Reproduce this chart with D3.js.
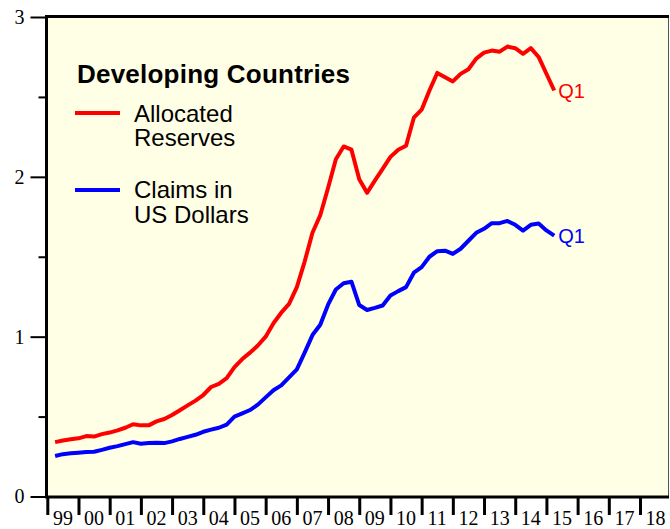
<!DOCTYPE html>
<html><head><meta charset="utf-8">
<script src="https://cdn.jsdelivr.net/npm/d3@7"></script>
<style>body{margin:0;background:#fff}svg{display:block}</style>
</head><body><svg id="c" width="670" height="529"></svg>
<script>
const startYear = 1999;
const yearLabels = ["99","00","01","02","03","04","05","06","07","08","09","10","11","12","13","14","15","16","17","18"];
const yTicks = [0,1,2,3];
const yMinor = [0.5,1.5,2.5];
const allocatedReserves = [0.34,0.35,0.358,0.364,0.378,0.375,0.39,0.40,0.414,0.43,0.452,0.445,0.445,0.47,0.485,0.51,0.54,0.57,0.60,0.635,0.685,0.705,0.74,0.81,0.86,0.90,0.945,1.0,1.084,1.15,1.205,1.31,1.47,1.65,1.76,1.93,2.11,2.19,2.17,1.985,1.90,1.976,2.05,2.125,2.17,2.195,2.37,2.42,2.54,2.65,2.623,2.597,2.644,2.673,2.74,2.777,2.79,2.783,2.815,2.805,2.77,2.805,2.75,2.645,2.54];
const claimsUSD = [0.253,0.265,0.27,0.274,0.278,0.28,0.292,0.305,0.315,0.328,0.34,0.33,0.334,0.337,0.334,0.345,0.36,0.373,0.386,0.405,0.418,0.43,0.45,0.50,0.52,0.541,0.575,0.62,0.665,0.695,0.745,0.795,0.90,1.01,1.075,1.20,1.295,1.334,1.344,1.198,1.167,1.18,1.195,1.257,1.285,1.31,1.40,1.435,1.50,1.535,1.538,1.518,1.55,1.60,1.65,1.675,1.71,1.71,1.724,1.70,1.663,1.70,1.708,1.665,1.632];

const svg = d3.select("#c");
const x = d3.scaleLinear().domain([1999, 2019]).range([47.3, 671.2]);
const y = d3.scaleLinear().domain([0, 3]).range([496.5, 17]);

// plot background
svg.append("rect").attr("x", 47).attr("y", 17).attr("width", 622).attr("height", 480)
  .attr("fill", "#FFFFE6");
// right border
svg.append("line").attr("x1", 668.5).attr("x2", 668.5).attr("y1", 16).attr("y2", 497)
  .attr("stroke", "#555").attr("stroke-width", 1);
// top border
svg.append("line").attr("x1", 45).attr("x2", 669).attr("y1", 16.5).attr("y2", 16.5)
  .attr("stroke", "#000").attr("stroke-width", 3);

// y axis
const yAxis = svg.append("g").attr("transform", "translate(46.5,0)")
  .call(d3.axisLeft(y).tickValues(yTicks).tickSize(16).tickPadding(6).tickFormat(d3.format("d")));
yAxis.select(".domain").attr("stroke-width", 3).attr("d", `M0,${y(3)-1.5}V${y(0)}`);
yAxis.selectAll(".tick line").attr("stroke-width", 2);
yAxis.selectAll(".tick text").attr("font-family", "Liberation Serif").attr("font-size", 20).attr("fill", "#000");
svg.append("g").attr("transform", "translate(46.5,0)")
  .call(d3.axisLeft(y).tickValues(yMinor).tickSize(8).tickFormat(""))
  .call(g => { g.select(".domain").remove(); g.selectAll(".tick line").attr("stroke-width", 2); });

// x axis
const years = yearLabels.map((d, i) => startYear + i);
const xAxis = svg.append("g").attr("transform", "translate(0,497)")
  .call(d3.axisBottom(x).tickValues(years).tickSize(18).tickFormat(""));
xAxis.select(".domain").attr("stroke-width", 3).attr("d", `M45,0H669`);
xAxis.selectAll(".tick line").attr("stroke-width", 3);
svg.append("g").selectAll("text").data(yearLabels).join("text")
  .attr("x", (d, i) => x(startYear + i + 0.5)).attr("y", 525)
  .attr("text-anchor", "middle").attr("font-family", "Liberation Serif").attr("font-size", 20)
  .text(d => d);

// lines
const t = i => startYear + (i + 1) * 0.25;
const line = d3.line().x((d, i) => x(t(i))).y(d => y(d));
svg.append("path").datum(allocatedReserves).attr("d", line).attr("fill", "none")
  .attr("stroke", "#FF0000").attr("stroke-width", 4).attr("stroke-linejoin", "round");
svg.append("path").datum(claimsUSD).attr("d", line).attr("fill", "none")
  .attr("stroke", "#0000FF").attr("stroke-width", 4).attr("stroke-linejoin", "round");

// end labels
const last = allocatedReserves.length - 1;
svg.append("text").attr("x", x(t(last)) + 4).attr("y", y(allocatedReserves[last]) + 7)
  .attr("font-family", "Liberation Sans").attr("font-size", 20).attr("fill", "#FF0000").text("Q1");
svg.append("text").attr("x", x(t(last)) + 4).attr("y", y(claimsUSD[last]) + 7)
  .attr("font-family", "Liberation Sans").attr("font-size", 20).attr("fill", "#0000FF").text("Q1");

// legend
const lg = svg.append("g").attr("font-family", "Liberation Sans").attr("fill", "#000");
lg.append("text").attr("x", 77).attr("y", 83).attr("font-weight", "bold").attr("font-size", 26)
  .attr("textLength", 273).attr("lengthAdjust", "spacing")
  .text("Developing Countries");
lg.append("line").attr("x1", 75).attr("x2", 120).attr("y1", 113).attr("y2", 113)
  .attr("stroke", "#FF0000").attr("stroke-width", 4);
lg.append("text").attr("x", 134).attr("y", 121.5).attr("font-size", 24).text("Allocated");
lg.append("text").attr("x", 134).attr("y", 146).attr("font-size", 24).text("Reserves");
lg.append("line").attr("x1", 75).attr("x2", 120).attr("y1", 190).attr("y2", 190)
  .attr("stroke", "#0000FF").attr("stroke-width", 4);
lg.append("text").attr("x", 134).attr("y", 198).attr("font-size", 24).text("Claims in");
lg.append("text").attr("x", 134).attr("y", 222.5).attr("font-size", 24).text("US Dollars");
</script></body></html>
